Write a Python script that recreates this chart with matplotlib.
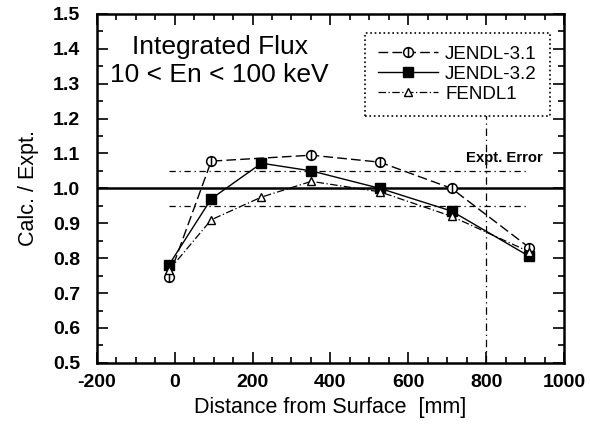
import numpy as np
import matplotlib
matplotlib.use("Agg")
import matplotlib.pyplot as plt
from matplotlib.path import Path
from matplotlib.ticker import MultipleLocator

plt.rcParams['font.family'] = ['Liberation Sans', 'DejaVu Sans']
plt.rcParams['axes.unicode_minus'] = False

# distance from surface [mm]
distance = [-15, 94, 223, 351, 527, 711, 911]

# calc / expt ratios
jendl31 = [0.745, 1.078, None, 1.095, 1.075, 1.000, 0.830]
jendl32 = [0.780, 0.970, 1.072, 1.050, 1.000, 0.935, 0.805]
fendl1 = [0.765, 0.910, 0.975, 1.020, 0.990, 0.920, 0.818]

expt_error = [0.95, 1.05]
error_span = [-15, 911]
marker_x = 800

x31 = [d for d, v in zip(distance, jendl31) if v is not None]
y31 = [v for v in jendl31 if v is not None]

# circle with a vertical bar through it
bar = Path([[0, -1], [0, 1]], [Path.MOVETO, Path.LINETO])
circle_bar = Path.make_compound_path(Path.unit_circle(), bar)

fig = plt.figure(figsize=(5.9, 4.32), dpi=100)
ax = fig.add_axes([0.164, 0.160, 0.792, 0.808])

# reference line and experimental error band
ax.axhline(1.0, color='black', lw=1.8, zorder=1)
for e in expt_error:
    ax.plot(error_span, [e, e], color='black', lw=0.9,
            linestyle=(0, (5, 3, 1, 3)), zorder=1)
ax.plot([marker_x, marker_x], [0.5, 1.21], color='black', lw=0.9,
        linestyle=(0, (6, 3, 1, 3)), zorder=1)

ax.plot(x31, y31, color='black', lw=1.0, linestyle=(0, (7, 3)),
        marker=circle_bar, ms=7, mfc='white', mec='black', mew=1.1,
        zorder=3, label='JENDL-3.1')
ax.plot(distance, jendl32, color='black', lw=1.0, marker='s', ms=6.5,
        mfc='black', mec='black', zorder=3, label='JENDL-3.2')
ax.plot(distance, fendl1, color='black', lw=0.9,
        linestyle=(0, (6, 2, 1, 2)), marker='^', ms=5.5, mfc='white',
        mec='black', mew=1.0, zorder=3, label='FENDL1')

ax.text(848, 1.067, 'Expt. Error', fontsize=10.7, fontweight='bold',
        ha='center', va='bottom')
ax.text(116, 1.405, 'Integrated Flux', fontsize=19, ha='center', va='center')
ax.text(116, 1.325, '10 < En < 100 keV', fontsize=19, ha='center',
        va='center')

leg = ax.legend(loc='upper right', bbox_to_anchor=(0.97, 0.946),
                borderaxespad=0, fontsize=13.5, handlelength=3.2,
                handletextpad=0.4, fancybox=False, framealpha=1,
                edgecolor='black', labelspacing=0.15, borderpad=0.7)
leg.get_frame().set_linestyle(':')
leg.get_frame().set_linewidth(1.2)

ax.set_xlim(-200, 1000)
ax.set_ylim(0.5, 1.5)
ax.xaxis.set_major_locator(MultipleLocator(200))
ax.xaxis.set_minor_locator(MultipleLocator(50))
ax.yaxis.set_major_locator(MultipleLocator(0.1))
ax.yaxis.set_minor_locator(MultipleLocator(0.05))
ax.tick_params(which='both', direction='in', top=True, right=True, width=1.2)
ax.tick_params(which='major', length=8, labelsize=14)
ax.tick_params(which='minor', length=4)
ax.tick_params(axis='x', which='major', pad=8)
ax.tick_params(axis='y', which='major', pad=12)
ax.set_yticks(np.arange(0.5, 1.51, 0.1))
ax.set_yticklabels([f"{v:.1f}" for v in ax.get_yticks()])
for lbl in ax.get_xticklabels() + ax.get_yticklabels():
    lbl.set_fontweight('bold')
for s in ax.spines.values():
    s.set_linewidth(1.8)

ax.set_xlabel('Distance from Surface  [mm]', fontsize=15.5, labelpad=4)
ax.set_ylabel('Calc. / Expt.', fontsize=15.5, labelpad=10)

fig.savefig('out.png', dpi=100)
